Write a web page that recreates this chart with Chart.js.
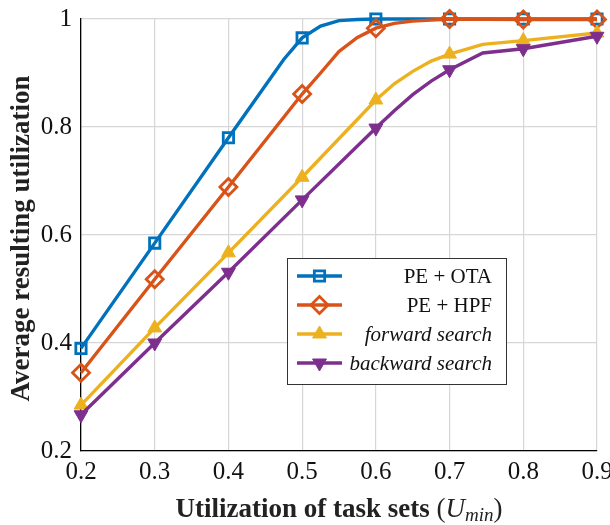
<!DOCTYPE html>
<html>
<head>
<meta charset="utf-8">
<script src="https://cdn.jsdelivr.net/npm/chart.js@4.4.0/dist/chart.umd.min.js"></script>
<style>
    html, body { margin: 0; padding: 0; background: #fff; }
    #wrap { width: 610px; height: 525px; }
</style>
</head>
<body>
<div id="wrap"><canvas id="utilChart"></canvas></div>
<script>
// x positions where the markers sit
const markerX = [0.2, 0.3, 0.4, 0.5, 0.6, 0.7, 0.8, 0.9];
const xTickLabels = ['0.2', '0.3', '0.4', '0.5', '0.6', '0.7', '0.8', '0.9'];
const yTickLabels = ['0.2', '0.4', '0.6', '0.8', '1'];

// PE + OTA
const otaX = [0.2, 0.3, 0.4, 0.475, 0.5, 0.525, 0.55, 0.575, 0.6, 0.7, 0.8, 0.9];
const otaY = [0.39, 0.585, 0.78, 0.925, 0.965, 0.987, 0.997, 0.999, 1, 1, 1, 1];
// PE + HPF
const hpfX = [0.2, 0.3, 0.4, 0.5, 0.525, 0.55, 0.575, 0.6, 0.625, 0.65, 0.7, 0.8, 0.9];
const hpfY = [0.345, 0.518, 0.689, 0.861, 0.9, 0.94, 0.966, 0.983, 0.992, 0.996, 1, 0.999, 0.999];
// forward search
const fwdX = [0.2, 0.3, 0.4, 0.5, 0.6, 0.625, 0.65, 0.675, 0.7, 0.745, 0.8, 0.9];
const fwdY = [0.285, 0.428, 0.567, 0.707, 0.85, 0.88, 0.903, 0.922, 0.935, 0.953, 0.96, 0.974];
// backward search
const bwdX = [0.2, 0.3, 0.4, 0.5, 0.6, 0.625, 0.65, 0.675, 0.7, 0.745, 0.8, 0.9];
const bwdY = [0.267, 0.4, 0.531, 0.665, 0.798, 0.83, 0.86, 0.885, 0.906, 0.937, 0.945, 0.968];

const SERIF = '"Liberation Serif", "DejaVu Serif", serif';

function toPoints(xs, ys) {
    return xs.map((x, i) => ({x: x, y: ys[i]}));
}

function isMarker(x) {
    return markerX.some((m) => Math.abs(m - x) < 1e-6);
}

function markerRadius(r) {
    return (ctx) => (ctx.raw && isMarker(ctx.raw.x)) ? r : 0;
}

const series = [
    {label: 'PE + OTA', italic: false, color: '#0072BD', style: 'rect', rot: 0, r: 7.3, fill: false, xs: otaX, ys: otaY, order: 3},
    {label: 'PE + HPF', italic: false, color: '#D95319', style: 'rectRot', rot: 0, r: 8.5, fill: false, xs: hpfX, ys: hpfY, order: 2},
    {label: 'forward search', italic: true, color: '#EDB120', style: 'triangle', rot: 0, r: 8, fill: true, xs: fwdX, ys: fwdY, order: 1},
    {label: 'backward search', italic: true, color: '#7E2F8E', style: 'triangle', rot: 180, r: 8, fill: true, xs: bwdX, ys: bwdY, order: 0}
];

const dataSets = series.map((s) => ({
    label: s.label,
    data: toPoints(s.xs, s.ys),
    order: s.order,
    borderColor: s.color,
    borderWidth: 3.4,
    tension: 0,
    clip: false,
    pointStyle: s.style,
    pointRotation: s.rot,
    pointRadius: markerRadius(s.r),
    pointHoverRadius: markerRadius(s.r),
    pointBorderColor: s.color,
    pointBorderWidth: s.fill ? 1 : 2.8,
    pointBackgroundColor: s.fill ? s.color : 'rgba(0,0,0,0)'
}));

function drawMarker(ctx, s, x, y) {
    ctx.save();
    ctx.strokeStyle = s.color;
    ctx.fillStyle = s.color;
    ctx.lineWidth = s.fill ? 1 : 2.8;
    ctx.beginPath();
    if (s.style === 'rect') {
        const h = s.r * Math.SQRT1_2;
        ctx.rect(x - h, y - h, 2 * h, 2 * h);
    } else if (s.style === 'rectRot') {
        ctx.moveTo(x, y - s.r);
        ctx.lineTo(x + s.r, y);
        ctx.lineTo(x, y + s.r);
        ctx.lineTo(x - s.r, y);
        ctx.closePath();
    } else {
        const dir = s.rot === 180 ? -1 : 1;
        const a = s.r * Math.sqrt(3) / 2;
        ctx.moveTo(x, y - dir * s.r);
        ctx.lineTo(x + a, y + dir * s.r / 2);
        ctx.lineTo(x - a, y + dir * s.r / 2);
        ctx.closePath();
    }
    if (s.fill) ctx.fill();
    ctx.stroke();
    ctx.restore();
}

const decorPlugin = {
    id: 'decor',
    afterDraw(chart) {
        const ctx = chart.ctx;
        const area = chart.chartArea;

        // legend box
        const bx = 287, by = 258, bw = 219, bh = 126;
        ctx.save();
        ctx.fillStyle = '#fff';
        ctx.fillRect(bx, by, bw, bh);
        ctx.strokeStyle = '#333';
        ctx.lineWidth = 1;
        ctx.strokeRect(bx + 0.5, by + 0.5, bw, bh);
        const rows = [276, 305, 334, 363];
        series.forEach((s, i) => {
            const yy = rows[i];
            ctx.strokeStyle = s.color;
            ctx.lineWidth = 3.4;
            ctx.beginPath();
            ctx.moveTo(297, yy);
            ctx.lineTo(342, yy);
            ctx.stroke();
            drawMarker(ctx, s, 319.5, yy);
            ctx.fillStyle = '#111';
            ctx.font = (s.italic ? 'italic ' : '') + '21px ' + SERIF;
            ctx.textAlign = 'right';
            ctx.textBaseline = 'middle';
            ctx.fillText(s.label, 492, yy + 1);
        });
        ctx.restore();

        // y axis title
        ctx.save();
        ctx.translate(22, (75 + 402) / 2);
        ctx.rotate(-Math.PI / 2);
        ctx.fillStyle = '#222';
        ctx.font = 'bold 27px ' + SERIF;
        ctx.textAlign = 'center';
        ctx.textBaseline = 'middle';
        ctx.fillText('Average resulting utilization', 0, 0);
        ctx.restore();

        // x axis title, with the math part in italics
        ctx.save();
        ctx.fillStyle = '#222';
        ctx.textBaseline = 'alphabetic';
        ctx.textAlign = 'left';
        const parts = [
            {t: 'Utilization of task sets ', f: 'bold 27px ' + SERIF, dy: 0},
            {t: '(', f: '27px ' + SERIF, dy: 0},
            {t: 'U', f: 'italic 27px ' + SERIF, dy: 0},
            {t: 'min', f: 'italic 19px ' + SERIF, dy: 4},
            {t: ')', f: '27px ' + SERIF, dy: 0}
        ];
        let total = 0;
        parts.forEach((p) => { ctx.font = p.f; p.w = ctx.measureText(p.t).width; total += p.w; });
        let cx = 339 - total / 2;
        const base = 517;
        parts.forEach((p) => {
            ctx.font = p.f;
            ctx.fillText(p.t, cx, base + p.dy);
            cx += p.w;
        });
        ctx.restore();
    }
};

new Chart(document.getElementById('utilChart'), {
    type: 'line',
    data: {datasets: dataSets},
    plugins: [decorPlugin],
    options: {
        responsive: true,
        maintainAspectRatio: false,
        animation: false,
        events: [],
        layout: {padding: {top: 19, right: 13, bottom: 0, left: 0}},
        plugins: {legend: {display: false}, tooltip: {enabled: false}},
        scales: {
            x: {
                type: 'linear',
                min: 0.2,
                max: 0.9,
                afterBuildTicks: (scale) => { scale.ticks = markerX.map((v) => ({value: v})); },
                afterFit: (scale) => { scale.height = 74; scale.paddingLeft = 0; scale.paddingRight = 0; },
                grid: {color: '#d6d6d6', lineWidth: 1.2, drawTicks: false},
                border: {display: true, color: '#000', width: 1.3},
                ticks: {
                    padding: 6,
                    color: '#111',
                    font: {family: SERIF, size: 25},
                    maxRotation: 0,
                    callback: (v, i) => xTickLabels[i]
                }
            },
            y: {
                min: 0.2,
                max: 1,
                afterBuildTicks: (scale) => { scale.ticks = yTickLabels.map((t) => ({value: parseFloat(t)})); },
                afterFit: (scale) => { scale.width = 81; scale.paddingTop = 0; scale.paddingBottom = 0; },
                grid: {color: '#d6d6d6', lineWidth: 1.2, drawTicks: false},
                border: {display: true, color: '#000', width: 1.3},
                ticks: {
                    padding: 9,
                    color: '#111',
                    font: {family: SERIF, size: 25},
                    callback: (v, i) => yTickLabels[i]
                }
            }
        }
    }
});
</script>
</body>
</html>
